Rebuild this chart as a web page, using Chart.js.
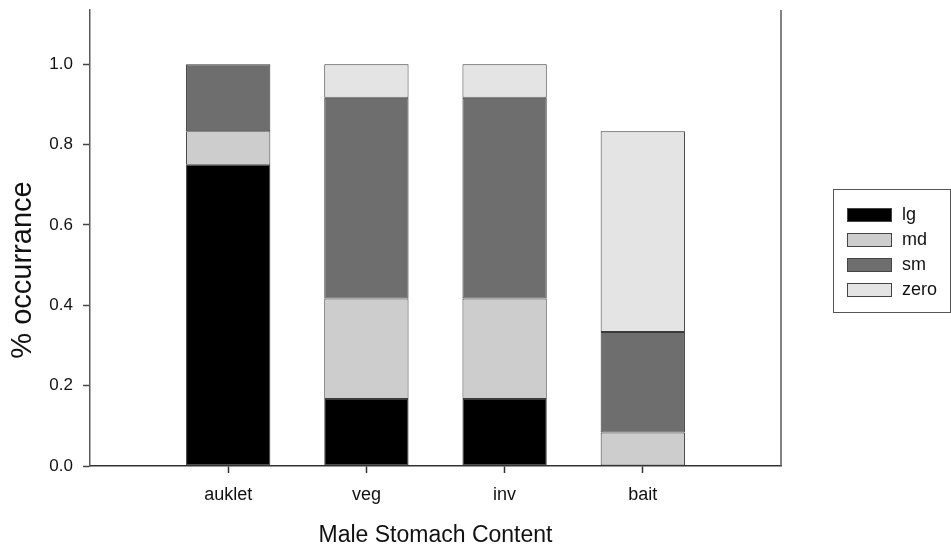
<!DOCTYPE html>
<html>
<head>
<meta charset="utf-8">
<script src="https://cdn.jsdelivr.net/npm/chart.js@4/dist/chart.umd.min.js"></script>
<style>
  html, body { margin: 0; padding: 0; background: #fff; }
  #wrap { width: 951px; height: 550px; }
</style>
</head>
<body>
<div id="wrap"><canvas id="c" width="951" height="550"></canvas></div>
<script>
// Proportion of stomachs by prey size class, per content type
const categories = ['auklet', 'veg', 'inv', 'bait'];
const lg   = [0.75,   0.1667, 0.1667, 0];
const md   = [0.0833, 0.25,   0.25,   0.0833];
const sm   = [0.1667, 0.5,    0.5,    0.25];
const zero = [0,      0.0833, 0.0833, 0.5];
const yTicks = [0, 0.2, 0.4, 0.6, 0.8, 1.0];
const seriesNames = ['lg', 'md', 'sm', 'zero'];
const seriesColors = ['#000000', '#cdcdcd', '#6e6e6e', '#e4e4e4'];

const FONT = "Arial, 'Liberation Sans', Helvetica, sans-serif";

// Bars sit at x = 1..4 on a 0..5 linear axis
const toPoints = arr => arr.map((v, i) => ({ x: i + 1, y: v }));

const datasets = [lg, md, sm, zero].map((arr, k) => ({
  label: seriesNames[k],
  data: toPoints(arr),
  backgroundColor: seriesColors[k],
  borderColor: '#3a3a3a',
  borderWidth: 1,
  borderSkipped: false,
  barPercentage: 0.61,
  categoryPercentage: 1.0
}));

// Axis titles, right frame line and boxed legend
const decorations = {
  id: 'decorations',
  afterDraw(chart) {
    const ctx = chart.ctx;
    const a = chart.chartArea;
    ctx.save();

    // right-hand frame line
    ctx.strokeStyle = '#5a5a5a';
    ctx.lineWidth = 1.5;
    ctx.beginPath();
    ctx.moveTo(a.right, a.top);
    ctx.lineTo(a.right, a.bottom);
    ctx.stroke();

    // axis titles
    ctx.fillStyle = '#111';
    ctx.textAlign = 'center';
    ctx.textBaseline = 'middle';
    ctx.font = '23px ' + FONT;
    ctx.fillText('Male Stomach Content', (a.left + a.right) / 2, 536);

    ctx.save();
    ctx.translate(23, 270);
    ctx.rotate(-Math.PI / 2);
    ctx.font = '29px ' + FONT;
    ctx.fillText('% occurrance', 0, 0);
    ctx.restore();

    // legend box
    const bx = 833.5, by = 189.5, bw = 117, bh = 123;
    ctx.strokeStyle = '#555';
    ctx.lineWidth = 1;
    ctx.strokeRect(bx, by, bw, bh);
    ctx.font = '18px ' + FONT;
    ctx.textAlign = 'left';
    chart.data.datasets.forEach((ds, i) => {
      const cy = 215 + i * 25;
      ctx.fillStyle = ds.backgroundColor;
      ctx.fillRect(847, cy - 7, 45, 14);
      ctx.strokeStyle = '#444';
      ctx.strokeRect(847.5, cy - 6.5, 44, 13);
      ctx.fillStyle = '#111';
      ctx.fillText(ds.label, 902, cy);
    });
    ctx.restore();
  }
};

new Chart(document.getElementById('c'), {
  type: 'bar',
  data: { datasets },
  options: {
    responsive: false,
    devicePixelRatio: 1,
    animation: false,
    layout: { padding: { top: 10, right: 170, left: 0, bottom: 0 } },
    plugins: {
      legend: { display: false },
      tooltip: { enabled: false }
    },
    scales: {
      x: {
        type: 'linear',
        stacked: true,
        min: 0,
        max: 5,
        offset: false,
        afterBuildTicks(scale) {
          scale.ticks = categories.map((_, i) => ({ value: i + 1 }));
        },
        afterFit(scale) { scale.height = 84; },
        ticks: {
          autoSkip: false,
          maxRotation: 0,
          padding: 11,
          color: '#111',
          font: { family: FONT, size: 18 },
          callback: v => categories[v - 1] || ''
        },
        grid: {
          offset: false,
          drawOnChartArea: false,
          drawTicks: true,
          tickLength: 7,
          tickColor: '#333',
          tickWidth: 1.5
        },
        border: { display: true, color: '#333', width: 1.5 }
      },
      y: {
        stacked: true,
        min: 0,
        max: 1.135,
        afterBuildTicks(scale) {
          scale.ticks = yTicks.map(v => ({ value: v }));
        },
        afterFit(scale) {
          scale.width = 90;
          scale.paddingTop = 0;
          scale.paddingBottom = 0;
        },
        ticks: {
          padding: 10,
          color: '#111',
          font: { family: FONT, size: 17 },
          callback: v => Number(v).toFixed(1)
        },
        grid: {
          drawOnChartArea: false,
          drawTicks: true,
          tickLength: 7,
          tickColor: '#444',
          tickWidth: 1.5
        },
        border: { display: true, color: '#5a5a5a', width: 1.5 }
      }
    }
  },
  plugins: [decorations]
});
</script>
</body>
</html>
